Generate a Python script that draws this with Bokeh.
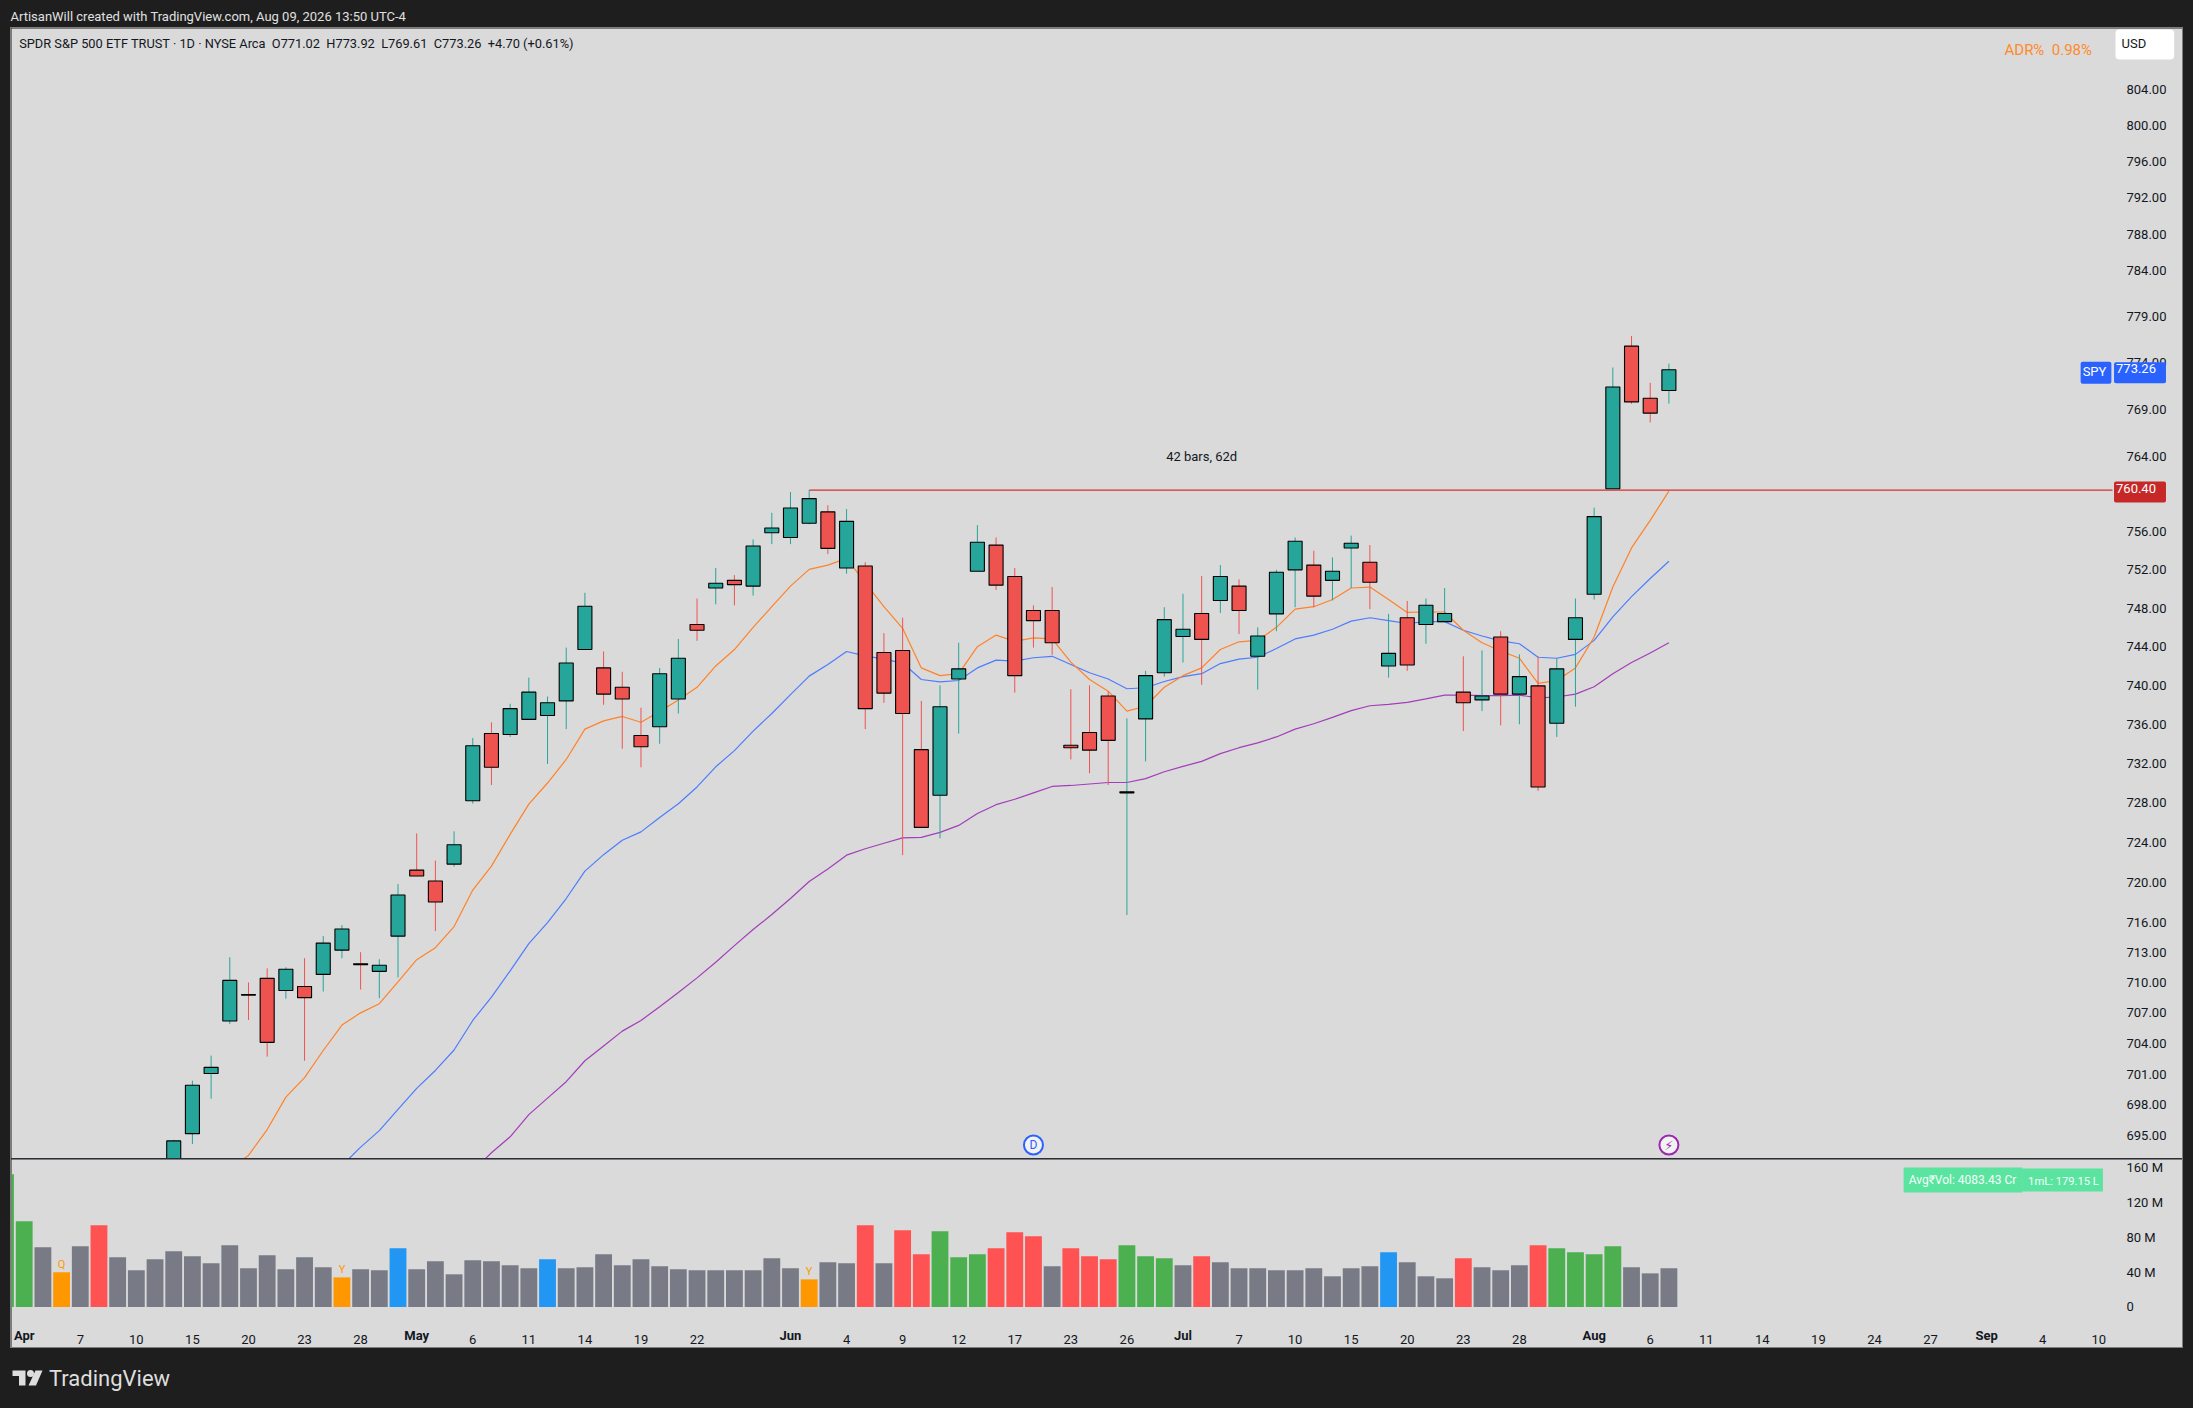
from bokeh.embed import file_html
from bokeh.resources import INLINE
from bokeh.plotting import figure
from bokeh.layouts import column, row
from bokeh.models import (Range1d, FixedTicker, NumeralTickFormatter, Label, Spacer)
from bokeh.core.properties import value

FONT = "Roboto"
PAGE = "#1e1e1e"
PLATE = "#dadada"
UP = "#26a69a"
DOWN = "#ef5350"

opens = [690.0,695.2,701.05,706.2,708.8,710.4,709.2,709.6,710.8,713.2,711.85,711.1,714.6,721.2,720.1,721.8,728.2,735.05,734.95,736.5,
 736.9,738.4,743.7,741.8,739.8,734.85,735.75,738.6,746.3,750.1,750.9,750.3,755.9,755.4,756.9,758.1,752.2,752.4,743.4,743.6,
 733.4,728.75,740.65,751.85,754.6,751.3,747.75,747.75,733.85,735.15,738.9,729.0,736.55,741.3,745.05,747.45,748.8,750.3,743.0,747.4,
 752.0,752.5,750.9,754.3,752.8,742.0,747.0,746.3,746.6,739.3,738.5,745.0,739.1,739.95,736.1,744.75,749.45,760.55,775.8,770.2,771.02]
highs = [694.6,700.35,702.8,712.5,710.0,711.4,711.5,712.4,714.6,715.7,713.0,712.3,719.8,724.9,722.15,725.1,734.6,736.2,738.1,740.8,
 738.85,743.9,749.6,743.5,741.4,737.7,741.8,744.8,749.0,752.2,751.45,755.2,758.0,760.2,760.4,758.8,758.4,752.8,745.4,747.0,
 738.4,740.0,744.4,756.7,755.4,752.2,748.3,750.2,739.6,740.0,739.4,736.6,741.5,748.1,749.5,751.35,752.5,751.0,746.0,752.0,
 755.4,754.0,753.3,755.6,754.6,747.4,748.75,749.0,750.1,743.0,743.6,745.6,743.2,743.0,742.8,749.0,758.55,773.5,776.9,771.85,773.92]
lows = [689.0,694.2,698.6,705.9,706.3,702.7,708.4,702.3,709.1,712.4,709.3,708.45,710.5,720.6,715.1,721.55,727.9,729.8,734.7,736.5,
 731.95,735.5,743.7,738.0,733.5,731.6,734.0,737.1,744.6,748.4,748.3,749.3,754.7,754.7,756.8,753.65,751.6,735.5,738.2,722.7,
 725.5,724.4,735.05,751.85,749.9,739.25,743.9,743.15,732.4,731.0,729.8,716.7,732.2,740.9,742.35,740.05,747.5,745.3,739.55,745.6,
 748.1,748.1,748.8,750.1,747.9,740.8,741.5,744.3,746.6,735.3,737.35,735.9,736.0,729.2,734.7,737.8,748.9,760.55,769.6,767.6,769.61]
closes = [694.5,699.9,701.65,710.2,708.75,704.1,711.3,708.5,713.9,715.3,711.75,711.7,718.7,720.6,718.0,723.75,733.8,731.6,737.6,739.3,
 738.2,742.3,748.2,739.1,738.6,733.7,741.2,742.8,745.7,750.6,750.45,754.5,756.4,758.5,759.5,754.25,757.1,737.6,739.2,737.1,
 725.5,737.8,741.7,754.9,750.4,741.0,746.7,744.4,733.6,733.35,734.35,729.1,741.0,746.8,745.8,744.75,751.3,747.75,745.1,751.75,
 755.0,749.25,751.85,754.8,750.7,743.3,742.1,748.3,747.45,738.2,738.9,739.1,740.9,729.6,741.7,747.0,757.6,771.4,769.8,768.6,773.26]

ma_fast = [691.8,693.1,695.6,698.75,700.65,703.3,705.8,707.0,707.9,710.05,712.25,713.45,715.55,719.2,721.6,724.8,727.85,730.0,732.4,735.5,
 736.35,736.8,736.2,737.3,738.5,739.8,742.0,743.7,746.0,748.15,750.3,752.05,752.5,753.2,750.65,748.15,745.9,741.8,741.0,741.2,
 744.0,745.2,744.55,744.9,744.8,742.4,740.6,739.4,737.35,737.85,739.8,741.0,741.8,743.7,744.5,744.65,746.0,747.9,748.15,748.9,
 750.1,750.2,748.9,747.55,747.6,747.6,745.7,744.4,743.55,742.8,740.2,740.5,741.8,745.0,750.2,754.3,757.2,760.3]
ma_mid = [692.1,693.9,695.5,697.55,699.6,701.35,703.35,706.25,708.55,711.15,713.85,715.95,718.35,721.1,722.75,724.2,725.05,726.5,727.9,729.6,
 731.65,733.3,735.3,737.1,739.05,740.95,742.15,743.5,743.05,742.7,742.3,740.6,740.35,740.5,741.8,742.6,742.5,742.85,743.0,742.15,
 741.3,740.65,739.65,739.75,740.4,740.9,741.2,742.25,742.7,742.9,743.8,744.8,745.2,745.8,746.65,747.0,746.7,746.4,746.6,746.6,
 745.7,745.1,744.6,744.3,742.9,742.8,743.2,744.65,747.1,749.2,751.1,752.9]
ma_slow = [691.6,693.35,694.9,697.05,698.65,700.25,702.3,703.75,705.2,706.25,707.6,709.0,710.45,712.0,713.65,715.25,716.75,718.35,720.05,721.3,
 722.7,723.35,723.9,724.45,724.5,725.0,725.7,726.9,727.8,728.35,729.0,729.65,729.75,729.9,730.05,730.05,730.45,731.15,731.7,732.2,
 733.0,733.6,734.1,734.7,735.5,736.05,736.7,737.4,737.9,738.05,738.25,738.6,739.0,739.0,738.95,738.95,739.0,738.7,738.8,739.1,
 739.85,741.2,742.35,743.35,744.4]

volume = [152.7,98.6,68.7,39.9,69.8,94.0,57.2,42.2,54.9,64.1,58.3,50.2,71.0,44.5,59.5,43.3,57.2,45.6,34.1,43.3,
 42.2,67.5,43.3,52.6,37.6,53.7,52.6,47.9,44.5,54.9,44.5,45.6,60.6,47.9,54.9,46.8,43.3,42.2,42.2,42.2,
 42.2,56.0,44.5,31.8,51.4,50.2,94.0,50.2,88.2,60.6,87.1,57.2,60.6,67.5,85.9,81.3,46.8,67.5,58.3,54.9,
 71.0,58.3,56.0,47.9,58.3,51.4,44.5,44.5,42.2,42.2,44.5,35.3,44.5,46.8,62.9,51.4,35.3,33.0,56.0,45.6,
 42.2,47.9,71.0,67.5,62.9,60.6,69.8,45.6,38.7,44.5]
volume_class = list("ggkokrkkkkkkkkkkkkokkbkkkkkkkbkkkkkkkkkkkkkokkrkrrgggrrrkrrrgggkrkkkkkkkkkbkkkrkkkrggggkkk")
VOL_FIRST = -9
volume_marks = {-6: "Q", 9: "Y", 34: "Y"}

price_ticks = [695,698,701,704,707,710,713,716,720,724,728,732,736,740,744,748,752,756,764,769,774,779,784,788,792,796,800,804]
volume_ticks = {0:"0", 40:"40 M", 80:"80 M", 120:"120 M", 160:"160 M"}
day_ticks = {-5:"7",-2:"10",1:"15",4:"20",7:"23",10:"28",16:"6",19:"11",22:"14",25:"19",28:"22",36:"4",39:"9",42:"12",45:"17",48:"23",51:"26",
 57:"7",60:"10",63:"15",66:"20",69:"23",72:"28",79:"6",82:"11",85:"14",88:"19",91:"24",94:"27",100:"4",103:"10"}
month_ticks = {-8:"Apr",13:"May",33:"Jun",54:"Jul",76:"Aug",97:"Sep"}
level_start, level_end, level_price = 34, 103.73, 760.4
last_close = 773.26
X0, X1 = -8.68, 107.48

GRAY = "#7e7e7e"
INNER_W = 2171

def band(w, h, color):
    return Spacer(width=w, height=h, styles={"background-color": color})

def label(p, text, x, y, size="13px", color="#131722", align="left", baseline="middle", style="normal", y_units="screen", x_units="screen", **kw):
    l = Label(x=x, y=y, x_units=x_units, y_units=y_units, text=text, text_font=FONT,
              text_font_size=size, text_color=color, text_align=align, text_baseline=baseline, text_font_style=style, **kw)
    p.add_layout(l)
    return l

# ---------- header ----------
hdr = figure(width=2177, height=19, x_range=Range1d(8, 2185), y_range=Range1d(27, 8), toolbar_location=None, tools="",
             output_backend="svg", x_axis_location=None, y_axis_location=None, min_border=0,
             background_fill_color=PAGE, border_fill_color=PAGE, outline_line_color=None)
hdr.grid.visible = False
hdr.text(x=[10], y=[15.7], text=["ArtisanWill created with TradingView.com, Aug 09, 2026 13:50 UTC-4"], text_font=value(FONT),
         text_font_size="13px", text_color="#e0e0e0", text_baseline="middle")

# ---------- price pane ----------
p = figure(width=INNER_W, height=1130, x_range=Range1d(X0, X1), y_range=Range1d(692.8, 810.9), y_axis_type="log",
           y_axis_location="right", x_axis_location=None, toolbar_location=None, tools="", output_backend="svg",
           min_border=0, background_fill_color=PLATE, border_fill_color=PLATE, outline_line_color=None)
p.grid.visible = False
ax = p.yaxis[0]
ax.ticker = FixedTicker(ticks=price_ticks)
ax.formatter = NumeralTickFormatter(format="0.00")
ax.axis_line_color = None
ax.major_tick_line_color = None
ax.minor_tick_line_color = None
ax.major_label_standoff = -62
ax.major_label_text_font = FONT
ax.major_label_text_font_size = "13px"
ax.major_label_text_color = "#131722"

n = len(closes)
xs = list(range(n))
for vals, col in ((ma_slow, "#a33dba"), (ma_mid, "#4d7cfe"), (ma_fast, "#ff8228")):
    p.line(list(range(n - len(vals), n)), vals, line_color=col, line_width=1.2)

p.segment([level_start], [level_price], [level_end], [level_price], line_color="#d32f2f", line_width=1.2)

colors = [UP if c >= o else DOWN for o, c in zip(opens, closes)]
p.segment(xs, lows, xs, highs, line_color=colors, line_width=1)
p.vbar(x=xs, top=[max(o, c) for o, c in zip(opens, closes)], bottom=[min(o, c) for o, c in zip(opens, closes)],
       width=0.75, fill_color=colors, line_color="black", line_width=1.1)

p.text(x=[55], y=[763.93], text=["42 bars, 62d"], text_font=value(FONT), text_font_size="13px", text_color="#131722",
       text_align="center", text_baseline="middle")

# event markers
p.scatter(x=[46], y=[694.1], marker="circle", size=19, fill_color="#f2f2f2", line_color="#2962ff", line_width=2)
p.text(x=[46], y=[694.1], text=["D"], text_font=value(FONT), text_font_size="12px", text_color="#2962ff",
       text_align="center", text_baseline="middle")
p.scatter(x=[80], y=[694.1], marker="circle", size=19, fill_color="#f2f2f2", line_color="#9c27b0", line_width=2)
p.text(x=[80], y=[694.1], text=["\u26a1"], text_font=value("DejaVu Sans"), text_font_size="13px", text_color="#9c27b0",
       text_align="center", text_baseline="middle")

NB = "\u00a0\u00a0"
label(p, "SPDR S&P 500 ETF TRUST \u00b7 1D \u00b7 NYSE Arca" + NB + "O771.02" + NB + "H773.92" + NB + "L769.61" + NB + "C773.26" + NB + "+4.70 (+0.61%)",
      7.7, 1114.7, size="12.8px")
label(p, "ADR%" + NB + "0.98%", 1993, 1108.7, size="15px", color="#ff8a2b")
label(p, "USD", 2104, 1114, size="13px", color="#131722", background_fill_color="#ffffff", padding=(6, 28, 6, 9), border_radius=4)
label(p, "SPY", 2084.5, last_close, size="13px", color="#ffffff", align="center", y_units="data", y_offset=-3,
      background_fill_color="#2962ff", padding=(2, 5, 2, 5), border_radius=2)
label(p, "773.26", 2128.5, last_close, size="13px", color="#ffffff", align="center", y_units="data", y_offset=-3,
      background_fill_color="#2962ff", padding=(2, 10, 2, 10), border_radius=2)
label(p, "760.40", 2128.5, level_price, size="13px", color="#ffffff", align="center", y_units="data", y_offset=-2,
      background_fill_color="#c62828", padding=(2, 10, 2, 10), border_radius=2)

# ---------- volume pane ----------
v = figure(width=INNER_W, height=188, x_range=Range1d(X0, X1), y_range=Range1d(-46.6, 169.7),
           y_axis_location="right", toolbar_location=None, tools="", output_backend="svg",
           min_border=0, background_fill_color=PLATE, border_fill_color=PLATE, outline_line_color=None)
v.grid.visible = False
class_color = {"g": "#4caf50", "k": "#787b86", "o": "#ff9800", "r": "#ff5252", "b": "#2196f3"}
vx = list(range(VOL_FIRST, VOL_FIRST + len(volume)))
v.vbar(x=vx, top=volume, bottom=0, width=0.9, fill_color=[class_color[c] for c in volume_class], line_color=None)
mx = list(volume_marks)
v.text(x=mx, y=[volume[i - VOL_FIRST] for i in mx], text=[volume_marks[i] for i in mx], text_font=value(FONT), text_font_size="11px",
       text_color="#ff9800", text_align="center", text_baseline="bottom", y_offset=-1)
va = v.yaxis[0]
va.ticker = FixedTicker(ticks=list(volume_ticks))
va.major_label_overrides = volume_ticks
xa = v.xaxis[0]
xa.ticker = FixedTicker(ticks=list(day_ticks))
xa.major_label_overrides = day_ticks
for a in (va, xa):
    a.axis_line_color = None
    a.major_tick_line_color = None
    a.minor_tick_line_color = None
    a.major_label_text_font = FONT
    a.major_label_text_font_size = "13px"
    a.major_label_text_color = "#131722"
va.major_label_standoff = -62
xa.major_label_standoff = -19
for pos, name in month_ticks.items():
    label(v, name, pos, 12.3, size="13px", align="center", style="bold", x_units="data")
label(v, "Avg\u20b9Vol: 4083.43 Cr", 1951.5, 167.5, size="12px", color="#f4fff9", align="center",
      background_fill_color="#5ae4a0", padding=(5, 6, 5, 6))
label(v, "1mL: 179.15 L", 2051, 167.5, size="11.2px", color="#f4fff9", align="center",
      background_fill_color="#5ae4a0", padding=(6, 4, 6, 4))

# ---------- footer ----------
ftr = figure(width=2177, height=52, x_range=Range1d(8, 2185), y_range=Range1d(1400, 1348), toolbar_location=None, tools="",
             output_backend="svg", x_axis_location=None, y_axis_location=None, min_border=0,
             background_fill_color=PAGE, border_fill_color=PAGE, outline_line_color=None)
ftr.grid.visible = False
LOGO = "#dedede"
ftr.patch([12, 25, 25, 18.5, 18.5, 12], [1370, 1370, 1385, 1385, 1375.5, 1375.5], fill_color=LOGO, line_color=None)
ftr.scatter(x=[30], y=[1373], marker="circle", size=7, fill_color=LOGO, line_color=None)
ftr.patch([35, 42, 35.5, 28], [1370, 1370, 1385, 1385], fill_color=LOGO, line_color=None)
ftr.text(x=[48.5], y=[1377.5], text=["TradingView"], text_font=value(FONT), text_font_size="22px", text_font_style="normal",
         text_color=LOGO, text_baseline="middle")

plate = column(band(INNER_W, 1, GRAY), p, band(INNER_W, 1, "#2a2e39"), v, band(INNER_W, 1, GRAY), spacing=0)
mid = row(Spacer(width=2, height=1321), band(1, 1321, GRAY), plate, band(1, 1321, GRAY), spacing=0)
page = column(hdr, mid, ftr, spacing=0)

html = file_html(page, INLINE)
html = html.replace("</head>", "<style>html,body{background:#1e1e1e !important;overflow:hidden}body{margin:8px !important}</style></head>", 1)
open("out.html", "w").write(html)
